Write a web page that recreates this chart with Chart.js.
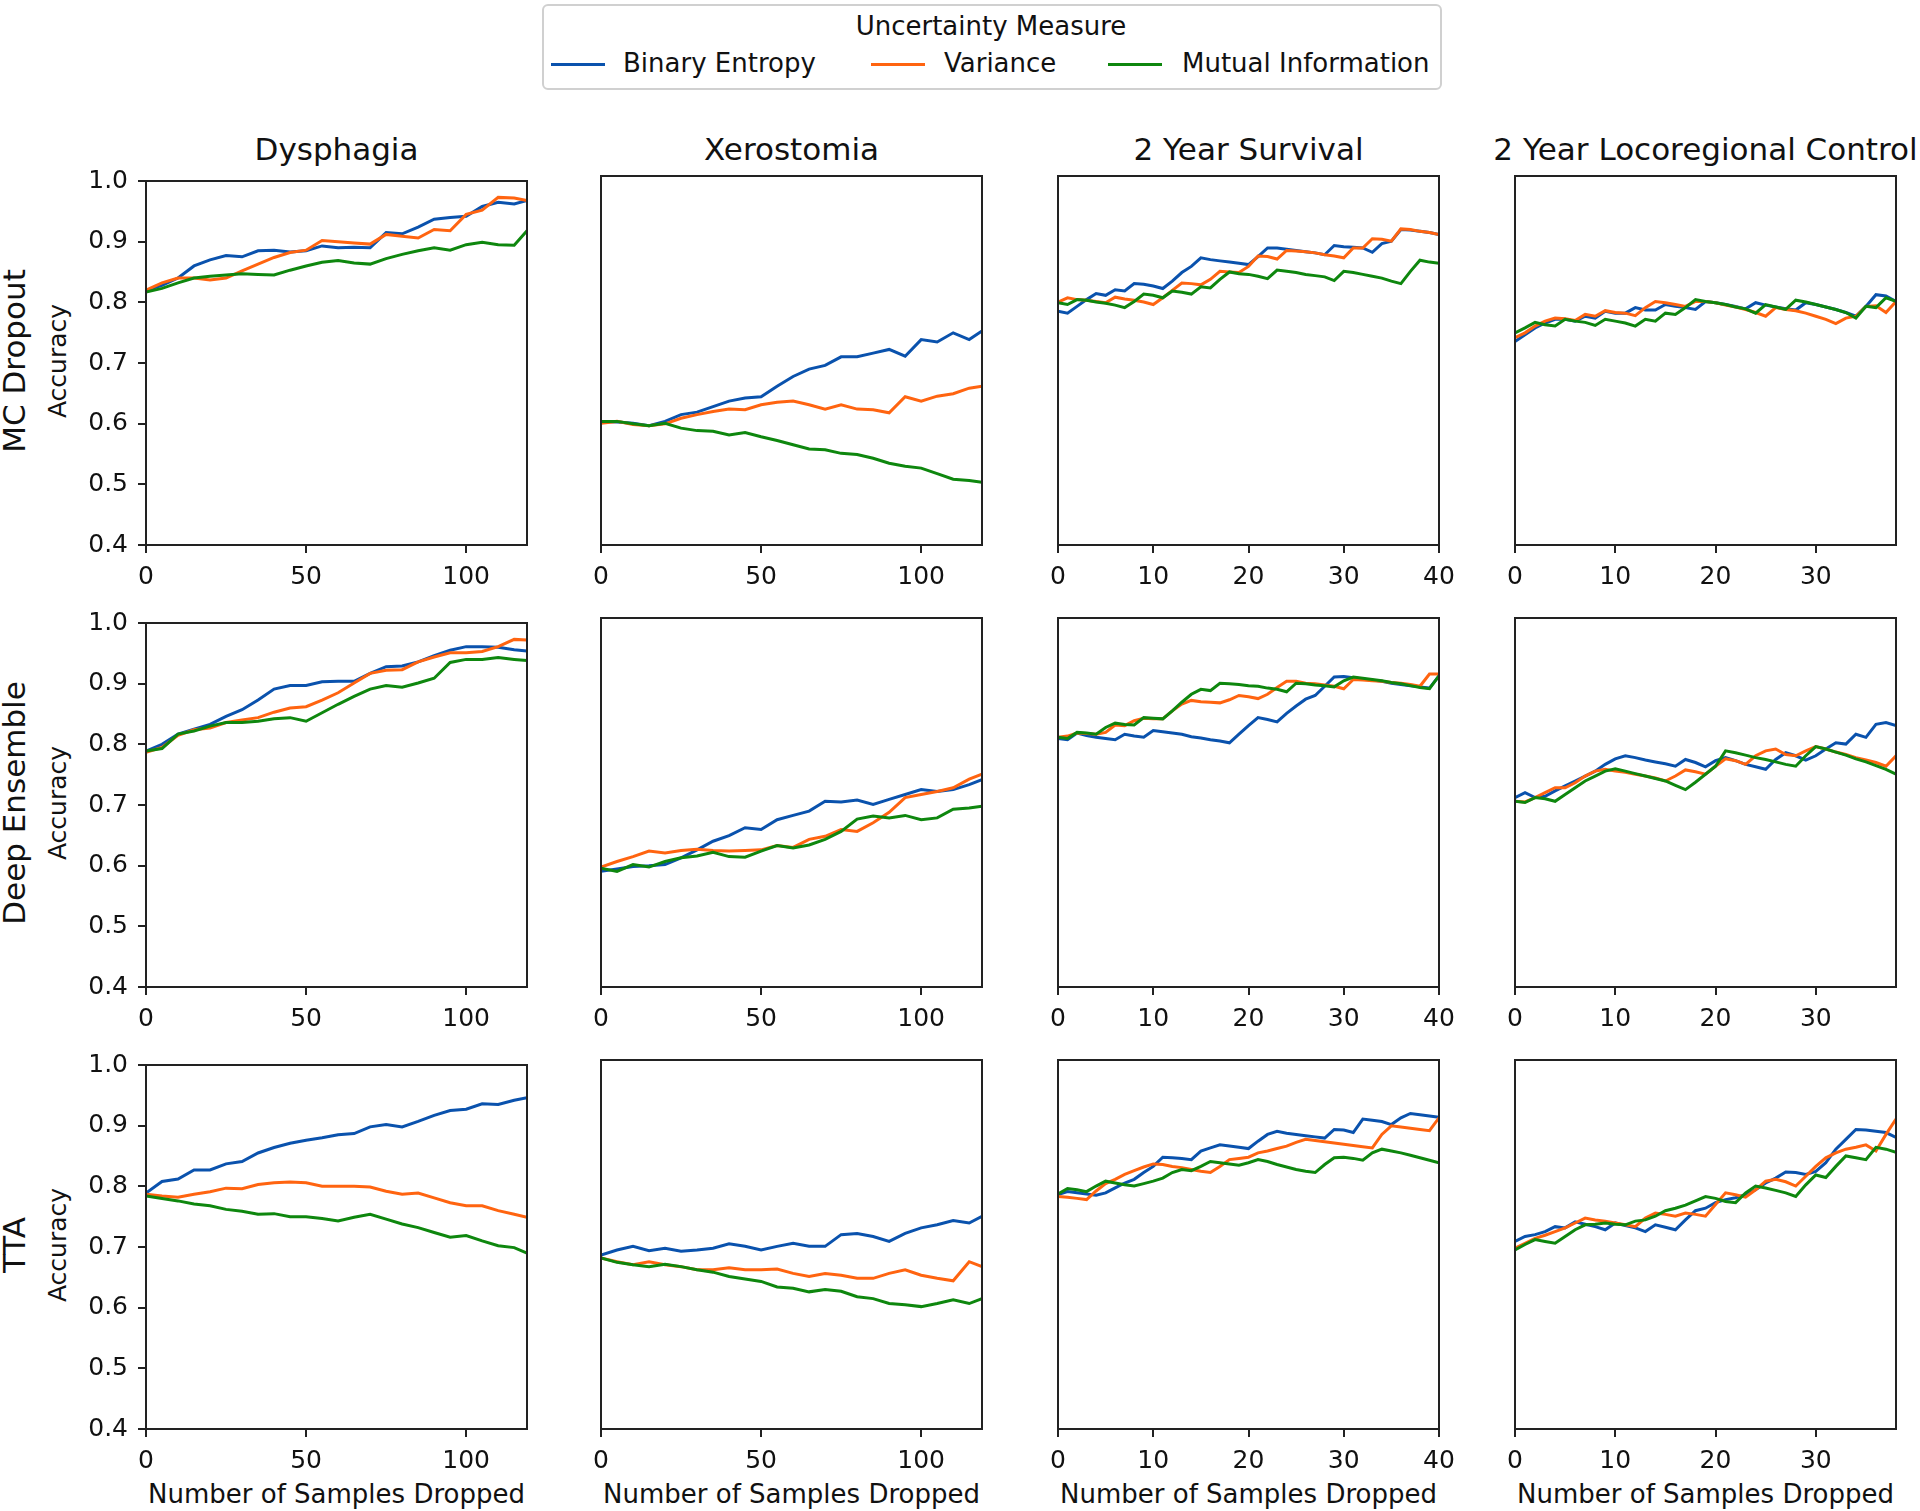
<!DOCTYPE html>
<html>
<head>
<meta charset="utf-8">
<script src="https://cdn.jsdelivr.net/npm/chart.js@4.4.1/dist/chart.umd.min.js"></script>
<style>
  body { margin: 0; width: 1920px; height: 1511px; background: #fff; overflow: hidden; position: relative;
         font-family: 'DejaVu Sans', sans-serif; color: #111; }
  .txt { position: absolute; white-space: nowrap; line-height: 1.2; }
  .ctr { transform: translate(-50%, -50%); }
  .rot { transform: translate(-50%, -50%) rotate(-90deg); }
  canvas { position: absolute; }
  #legendBox { position: absolute; left: 542px; top: 4px; width: 896px; height: 82px;
               border: 2px solid #d0d0d0; border-radius: 6px; }
  .swatch { position: absolute; height: 3px; width: 54px; }
</style>
</head>
<body>
<div id="legendBox"></div>
<script>
const measures = ['Binary Entropy', 'Variance', 'Mutual Information'];
const outcomes = ['Dysphagia', 'Xerostomia', '2 Year Survival', '2 Year Locoregional Control'];
const methods = ['MC Dropout', 'Deep Ensemble', 'TTA'];

// samples dropped
const x119 = [0,5,10,15,20,25,30,35,40,45,50,55,60,65,70,75,80,85,90,95,100,105,110,115,119];
const x40 = [0,1,2,3,4,5,6,7,8,9,10,11,12,13,14,15,16,17,18,19,20,21,22,23,24,25,26,27,28,29,30,31,32,33,34,35,36,37,38,39,40];
const x38 = [0,1,2,3,4,5,6,7,8,9,10,11,12,13,14,15,16,17,18,19,20,21,22,23,24,25,26,27,28,29,30,31,32,33,34,35,36,37,38];
const xMax = [119, 119, 40, 38];
const xStep = [50, 50, 10, 10];

// MC Dropout
const mcDysBE  = [0.820,0.828,0.840,0.860,0.870,0.877,0.875,0.885,0.886,0.883,0.885,0.893,0.890,0.891,0.890,0.915,0.913,0.924,0.937,0.940,0.942,0.958,0.965,0.962,0.968];
const mcDysVar = [0.820,0.832,0.840,0.840,0.837,0.840,0.852,0.863,0.874,0.882,0.886,0.902,0.900,0.898,0.896,0.912,0.909,0.906,0.920,0.918,0.945,0.952,0.973,0.972,0.968];
const mcDysMI  = [0.817,0.823,0.832,0.840,0.843,0.845,0.847,0.846,0.845,0.853,0.860,0.866,0.869,0.865,0.863,0.872,0.879,0.885,0.890,0.886,0.895,0.899,0.895,0.894,0.918];
const mcXerBE  = [0.601,0.600,0.598,0.594,0.601,0.612,0.616,0.625,0.634,0.639,0.641,0.658,0.674,0.686,0.692,0.706,0.706,0.712,0.718,0.707,0.734,0.730,0.745,0.734,0.748];
const mcXerVar = [0.598,0.601,0.596,0.594,0.597,0.606,0.612,0.617,0.621,0.620,0.628,0.632,0.634,0.628,0.621,0.628,0.621,0.620,0.615,0.641,0.634,0.642,0.646,0.655,0.658];
const mcXerMI  = [0.601,0.601,0.597,0.594,0.598,0.590,0.586,0.585,0.579,0.583,0.576,0.570,0.563,0.556,0.555,0.549,0.547,0.541,0.533,0.528,0.525,0.516,0.507,0.505,0.502];
const mcSurBE  = [0.780,0.777,0.788,0.799,0.809,0.806,0.815,0.813,0.825,0.824,0.821,0.817,0.829,0.843,0.853,0.867,0.864,0.862,0.860,0.858,0.856,0.869,0.883,0.883,0.881,0.879,0.877,0.875,0.872,0.887,0.885,0.884,0.883,0.876,0.890,0.894,0.913,0.912,0.910,0.908,0.905];
const mcSurVar = [0.795,0.802,0.799,0.798,0.796,0.794,0.803,0.800,0.798,0.795,0.791,0.802,0.814,0.826,0.825,0.823,0.832,0.845,0.844,0.843,0.853,0.870,0.869,0.865,0.879,0.878,0.877,0.875,0.872,0.870,0.867,0.883,0.883,0.898,0.897,0.894,0.914,0.913,0.910,0.908,0.905];
const mcSurMI  = [0.794,0.791,0.799,0.798,0.795,0.793,0.790,0.786,0.796,0.808,0.806,0.802,0.813,0.811,0.808,0.820,0.818,0.832,0.844,0.841,0.840,0.837,0.833,0.847,0.845,0.843,0.840,0.838,0.836,0.830,0.845,0.843,0.840,0.837,0.834,0.829,0.825,0.845,0.863,0.860,0.858];
const mcLrcBE  = [0.731,0.742,0.753,0.761,0.767,0.767,0.764,0.772,0.769,0.780,0.777,0.777,0.786,0.782,0.782,0.791,0.788,0.786,0.783,0.796,0.794,0.791,0.788,0.784,0.794,0.790,0.787,0.784,0.782,0.794,0.791,0.787,0.783,0.778,0.772,0.788,0.807,0.805,0.796];
const mcLrcVar = [0.737,0.745,0.756,0.764,0.769,0.768,0.765,0.775,0.772,0.781,0.778,0.777,0.773,0.786,0.796,0.794,0.791,0.788,0.796,0.796,0.794,0.790,0.787,0.783,0.778,0.772,0.786,0.783,0.781,0.777,0.772,0.767,0.760,0.769,0.772,0.788,0.789,0.778,0.796];
const mcLrcMI  = [0.745,0.753,0.762,0.758,0.756,0.767,0.764,0.762,0.757,0.767,0.764,0.761,0.756,0.767,0.764,0.777,0.775,0.786,0.799,0.796,0.794,0.791,0.787,0.784,0.777,0.791,0.787,0.783,0.798,0.795,0.791,0.787,0.783,0.778,0.769,0.788,0.786,0.802,0.796];

// Deep Ensemble
const deDysBE  = [0.789,0.800,0.817,0.825,0.833,0.846,0.857,0.873,0.891,0.897,0.897,0.903,0.904,0.904,0.917,0.928,0.929,0.936,0.946,0.955,0.961,0.961,0.960,0.956,0.954];
const deDysVar = [0.787,0.795,0.815,0.824,0.827,0.836,0.840,0.844,0.853,0.860,0.862,0.873,0.885,0.901,0.917,0.922,0.923,0.936,0.944,0.951,0.951,0.953,0.961,0.973,0.972];
const deDysMI  = [0.789,0.793,0.817,0.822,0.830,0.836,0.836,0.838,0.842,0.844,0.838,0.852,0.866,0.879,0.891,0.897,0.894,0.901,0.909,0.935,0.940,0.940,0.943,0.940,0.938];
const deXerBE  = [0.588,0.592,0.596,0.597,0.599,0.610,0.623,0.637,0.646,0.659,0.656,0.672,0.679,0.686,0.702,0.701,0.704,0.697,0.705,0.713,0.721,0.718,0.721,0.729,0.737];
const deXerVar = [0.595,0.604,0.612,0.621,0.618,0.622,0.624,0.622,0.621,0.622,0.623,0.630,0.627,0.640,0.645,0.656,0.653,0.667,0.684,0.708,0.713,0.718,0.724,0.738,0.746];
const deXerMI  = [0.593,0.588,0.599,0.595,0.604,0.610,0.613,0.619,0.612,0.611,0.621,0.630,0.626,0.631,0.640,0.653,0.673,0.678,0.675,0.679,0.672,0.675,0.689,0.691,0.694];
const deSurBE  = [0.804,0.802,0.813,0.809,0.806,0.804,0.802,0.811,0.808,0.806,0.817,0.815,0.813,0.811,0.807,0.805,0.802,0.800,0.797,0.811,0.825,0.838,0.835,0.831,0.845,0.857,0.868,0.874,0.889,0.904,0.905,0.903,0.901,0.899,0.897,0.894,0.892,0.890,0.888,0.886,0.906];
const deSurVar = [0.806,0.808,0.813,0.812,0.811,0.814,0.826,0.825,0.833,0.837,0.836,0.836,0.849,0.860,0.866,0.864,0.863,0.862,0.867,0.874,0.872,0.869,0.876,0.887,0.897,0.897,0.894,0.893,0.891,0.889,0.885,0.900,0.899,0.898,0.897,0.895,0.894,0.892,0.889,0.909,0.909];
const deSurMI  = [0.806,0.804,0.814,0.813,0.811,0.822,0.829,0.827,0.826,0.838,0.837,0.836,0.849,0.863,0.876,0.884,0.882,0.894,0.893,0.892,0.890,0.889,0.886,0.884,0.880,0.894,0.893,0.891,0.890,0.888,0.898,0.904,0.902,0.900,0.898,0.895,0.893,0.890,0.887,0.885,0.906];
const deLrcBE  = [0.708,0.716,0.708,0.710,0.719,0.727,0.735,0.743,0.751,0.762,0.771,0.776,0.773,0.769,0.766,0.763,0.759,0.770,0.765,0.758,0.768,0.773,0.768,0.762,0.758,0.754,0.770,0.781,0.776,0.769,0.776,0.787,0.797,0.795,0.811,0.806,0.827,0.830,0.825];
const deLrcVar = [0.702,0.701,0.708,0.716,0.724,0.724,0.732,0.743,0.751,0.754,0.751,0.749,0.746,0.743,0.740,0.735,0.743,0.753,0.750,0.746,0.759,0.771,0.768,0.762,0.776,0.784,0.787,0.778,0.776,0.784,0.791,0.787,0.782,0.778,0.773,0.769,0.765,0.759,0.776];
const deLrcMI  = [0.702,0.700,0.708,0.706,0.702,0.713,0.724,0.735,0.743,0.751,0.755,0.751,0.747,0.743,0.739,0.735,0.728,0.721,0.733,0.746,0.759,0.784,0.781,0.777,0.773,0.770,0.766,0.762,0.759,0.776,0.791,0.787,0.782,0.777,0.771,0.766,0.760,0.754,0.746];

// TTA
const ttaDysBE  = [0.789,0.808,0.812,0.827,0.827,0.837,0.841,0.855,0.864,0.871,0.876,0.880,0.885,0.887,0.898,0.902,0.898,0.907,0.917,0.925,0.927,0.936,0.935,0.942,0.946];
const ttaDysVar = [0.787,0.784,0.782,0.787,0.791,0.797,0.796,0.803,0.806,0.807,0.806,0.800,0.800,0.800,0.799,0.792,0.787,0.789,0.781,0.773,0.768,0.768,0.760,0.754,0.749];
const ttaDysMI  = [0.784,0.780,0.776,0.771,0.768,0.762,0.759,0.754,0.755,0.750,0.750,0.747,0.743,0.749,0.754,0.746,0.738,0.732,0.724,0.716,0.719,0.710,0.702,0.699,0.690];
const ttaXerBE  = [0.683,0.691,0.697,0.690,0.694,0.689,0.691,0.694,0.701,0.697,0.691,0.697,0.702,0.697,0.697,0.716,0.718,0.713,0.705,0.718,0.727,0.732,0.739,0.735,0.746];
const ttaXerVar = [0.678,0.672,0.667,0.672,0.667,0.664,0.659,0.659,0.662,0.659,0.659,0.660,0.653,0.648,0.653,0.650,0.645,0.645,0.653,0.659,0.650,0.645,0.641,0.672,0.664];
const ttaXerMI  = [0.678,0.671,0.667,0.664,0.668,0.664,0.659,0.655,0.648,0.644,0.640,0.631,0.629,0.623,0.627,0.624,0.615,0.612,0.604,0.602,0.599,0.604,0.610,0.604,0.612];
const ttaSurBE  = [0.781,0.786,0.784,0.782,0.780,0.784,0.792,0.800,0.806,0.817,0.827,0.842,0.841,0.840,0.838,0.852,0.857,0.862,0.860,0.858,0.856,0.868,0.879,0.884,0.881,0.879,0.877,0.875,0.873,0.887,0.886,0.882,0.904,0.902,0.900,0.895,0.906,0.913,0.911,0.909,0.907];
const ttaSurVar = [0.778,0.777,0.775,0.773,0.787,0.799,0.806,0.814,0.820,0.826,0.831,0.830,0.827,0.825,0.822,0.819,0.817,0.827,0.838,0.840,0.842,0.849,0.852,0.856,0.860,0.866,0.871,0.869,0.867,0.865,0.863,0.861,0.859,0.857,0.879,0.893,0.891,0.889,0.887,0.885,0.906];
const ttaSurMI  = [0.782,0.791,0.789,0.786,0.795,0.803,0.800,0.797,0.795,0.799,0.803,0.808,0.817,0.822,0.820,0.827,0.835,0.833,0.831,0.829,0.833,0.838,0.835,0.830,0.826,0.822,0.819,0.817,0.830,0.841,0.842,0.840,0.837,0.849,0.855,0.852,0.849,0.845,0.841,0.837,0.833];
const ttaLrcBE  = [0.705,0.713,0.716,0.721,0.729,0.727,0.737,0.733,0.729,0.724,0.735,0.731,0.727,0.721,0.732,0.728,0.724,0.740,0.755,0.759,0.768,0.773,0.776,0.781,0.789,0.800,0.808,0.818,0.817,0.814,0.819,0.833,0.855,0.871,0.887,0.886,0.884,0.882,0.874];
const ttaLrcVar = [0.694,0.702,0.710,0.715,0.721,0.727,0.735,0.743,0.740,0.738,0.735,0.732,0.729,0.743,0.751,0.749,0.746,0.751,0.749,0.746,0.765,0.784,0.781,0.777,0.789,0.803,0.806,0.802,0.795,0.811,0.827,0.841,0.849,0.855,0.858,0.862,0.852,0.879,0.904];
const ttaLrcMI  = [0.691,0.700,0.708,0.705,0.702,0.713,0.724,0.732,0.733,0.735,0.733,0.732,0.738,0.740,0.746,0.755,0.759,0.764,0.771,0.778,0.775,0.770,0.768,0.784,0.795,0.792,0.788,0.784,0.778,0.797,0.813,0.809,0.827,0.844,0.841,0.838,0.858,0.855,0.850];

const xValues = [x119, x119, x40, x38];
const panelData = [
  [[mcDysBE, mcDysVar, mcDysMI], [mcXerBE, mcXerVar, mcXerMI], [mcSurBE, mcSurVar, mcSurMI], [mcLrcBE, mcLrcVar, mcLrcMI]],
  [[deDysBE, deDysVar, deDysMI], [deXerBE, deXerVar, deXerMI], [deSurBE, deSurVar, deSurMI], [deLrcBE, deLrcVar, deLrcMI]],
  [[ttaDysBE, ttaDysVar, ttaDysMI], [ttaXerBE, ttaXerVar, ttaXerMI], [ttaSurBE, ttaSurVar, ttaSurMI], [ttaLrcBE, ttaLrcVar, ttaLrcMI]]
];

const colors = ['#0a52ad', '#ff6410', '#0e870e'];
const FONT = "'DejaVu Sans'";

// plot area geometry
const plotLeft = [146, 601, 1058, 1515];
const plotTop = [176, 618, 1060];
const plotW = 381, plotH = 369;
const padL = 100, padT = 20, padR = 30, padB = 52;

function addText(text, x, y, size, cls) {
  const d = document.createElement('div');
  d.className = 'txt ' + cls;
  d.textContent = text;
  d.style.left = x + 'px';
  d.style.top = y + 'px';
  d.style.fontSize = size + 'px';
  document.body.appendChild(d);
  return d;
}

// legend
const legendLine = [551, 871, 1108];
const legendText = [623, 944, 1182];
addText('Uncertainty Measure', 991, 26.5, 26, 'ctr');
measures.forEach((m, k) => {
  const s = document.createElement('div');
  s.className = 'swatch';
  s.style.left = legendLine[k] + 'px';
  s.style.top = '62.5px';
  s.style.background = colors[k];
  document.body.appendChild(s);
  const t = addText(m, legendText[k], 64, 26, '');
  t.style.transform = 'translateY(-50%)';
});

// titles and labels
outcomes.forEach((o, c) => addText(o, plotLeft[c] + plotW / 2, 150, 31, 'ctr'));
methods.forEach((m, r) => {
  addText(m, 15, plotTop[r] + plotH / 2, 31, 'rot');
  addText('Accuracy', 58, plotTop[r] + plotH / 2, 25, 'rot');
});
outcomes.forEach((o, c) => addText('Number of Samples Dropped', plotLeft[c] + plotW / 2, 1495, 26, 'ctr'));

const framePlugin = {
  id: 'frame',
  afterDatasetsDraw(chart) {
    const { ctx, chartArea: a } = chart;
    ctx.save();
    ctx.strokeStyle = '#222';
    ctx.lineWidth = 2;
    ctx.strokeRect(a.left, a.top, a.right - a.left, a.bottom - a.top);
    ctx.restore();
  }
};

function makePanel(r, c) {
  const canvas = document.createElement('canvas');
  canvas.width = plotW + padL + padR;
  canvas.height = plotH + padT + padB;
  canvas.style.left = (plotLeft[c] - padL) + 'px';
  canvas.style.top = (plotTop[r] - padT) + 'px';
  document.body.appendChild(canvas);
  const xs = xValues[c];
  const series = panelData[r][c];

  new Chart(canvas, {
    type: 'line',
    data: {
      datasets: measures.map((m, k) => ({
        label: m,
        data: xs.map((x, i) => ({ x: x, y: series[k][i] })),
        borderColor: colors[k],
        borderWidth: 3,
        pointRadius: 0,
        tension: 0,
        fill: false,
        order: 3 - k
      }))
    },
    options: {
      responsive: false,
      animation: false,
      devicePixelRatio: 1,
      layout: { padding: { top: padT, right: padR, left: 0, bottom: 0 } },
      plugins: { legend: { display: false }, tooltip: { enabled: false }, title: { display: false } },
      scales: {
        x: {
          type: 'linear', min: 0, max: xMax[c],
          afterFit: s => { s.height = padB; },
          ticks: { stepSize: xStep[c], includeBounds: false, autoSkip: false, maxRotation: 0,
                   font: { family: FONT, size: 25 }, color: '#111', padding: 9 },
          grid: { drawOnChartArea: false, drawTicks: true, tickLength: 8, color: '#222', lineWidth: 2 },
          border: { display: false }
        },
        y: {
          type: 'linear', min: 0.4, max: 1.0,
          afterFit: s => { s.width = padL; },
          ticks: { display: c === 0, stepSize: 0.1, callback: v => v.toFixed(1),
                   font: { family: FONT, size: 25 }, color: '#111', padding: 10 },
          grid: { drawOnChartArea: false, drawTicks: c === 0, tickLength: 8, color: '#222', lineWidth: 2 },
          border: { display: false }
        }
      }
    },
    plugins: [framePlugin]
  });
}

for (let r = 0; r < methods.length; r++) {
  for (let c = 0; c < outcomes.length; c++) makePanel(r, c);
}
</script>
</body>
</html>
